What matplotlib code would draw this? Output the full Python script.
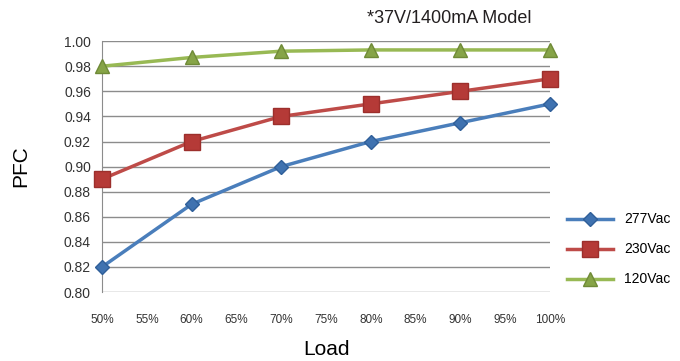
import matplotlib
matplotlib.use("Agg")
import matplotlib.pyplot as plt
from matplotlib.ticker import FuncFormatter

plt.rcParams['font.family'] = ['Liberation Sans', 'DejaVu Sans']

# Data
load = [50, 60, 70, 80, 90, 100]
pfc_277 = [0.82, 0.87, 0.90, 0.92, 0.935, 0.95]
pfc_230 = [0.89, 0.92, 0.94, 0.95, 0.96, 0.97]
pfc_120 = [0.98, 0.987, 0.992, 0.993, 0.993, 0.993]
x_ticks = [50, 55, 60, 65, 70, 75, 80, 85, 90, 95, 100]
y_ticks = [0.80, 0.82, 0.84, 0.86, 0.88, 0.90, 0.92, 0.94, 0.96, 0.98, 1.00]

fig = plt.figure(figsize=(6.8, 3.61), dpi=100)
ax = fig.add_axes([0.15, 0.191, 0.659, 0.695])

for yv in y_ticks:
    ax.axhline(yv, color='#8c8c8c', lw=1.0, zorder=0)

ax.plot(load, pfc_277, color='#4a7ebb', lw=2.5, marker='D', ms=7,
        mfc='#3f72b0', mec='#2f5f99', label='277Vac', zorder=3, clip_on=False)
ax.plot(load, pfc_230, color='#be4b48', lw=2.5, marker='s', ms=11,
        mfc='#b53a37', mec='#9c2f2c', label='230Vac', zorder=3, clip_on=False)
ax.plot(load, pfc_120, color='#98b954', lw=2.5, marker='^', ms=10,
        mfc='#86a447', mec='#6f8a37', label='120Vac', zorder=3, clip_on=False)

ax.set_xlim(50, 100)
ax.set_ylim(0.80, 1.00)
ax.set_xticks(x_ticks)
ax.set_yticks(y_ticks)
ax.xaxis.set_major_formatter(FuncFormatter(lambda v, p: '%d%%' % v))
ax.yaxis.set_major_formatter(FuncFormatter(lambda v, p: '%.2f' % v))
ax.tick_params(axis='x', length=0, pad=16, labelsize=8.5, colors='#333333')
ax.tick_params(axis='y', length=0, pad=8, labelsize=10, colors='#333333')

for s in ['top', 'right', 'bottom']:
    ax.spines[s].set_visible(False)
ax.spines['left'].set_color('#8c8c8c')

ax.set_xlabel('Load', fontsize=15, labelpad=10)
ax.set_ylabel('PFC', fontsize=15, labelpad=24)

fig.text(0.66, 0.95, '*37V/1400mA Model', fontsize=13, ha='center', va='center', color='#231f20')

ax.legend(loc='center left', bbox_to_anchor=(1.01, 0.17), frameon=False,
          fontsize=10, handlelength=3.3, labelspacing=1.15)

fig.savefig('out.png', dpi=100)
